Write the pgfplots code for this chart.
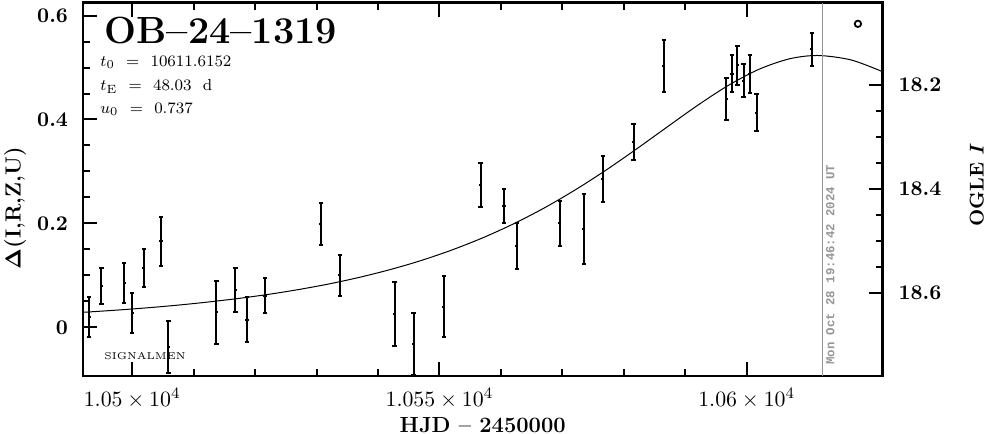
\documentclass[border=0pt]{standalone}
\usepackage{pgfplots}
\pgfplotsset{compat=1.18}
\usepackage{fontspec}
\newfontfamily\datefont{Liberation Mono}
\definecolor{dategray}{RGB}{150,150,150}

\begin{document}
\begin{tikzpicture}
\useasboundingbox (-41.5bp,-29bp) rectangle (451.5bp,188bp);
\begin{axis}[
  at={(0,0)}, anchor=south west,
  scale only axis, width=399.75bp, height=186.75bp,
  xmin=10492, xmax=10622.1, ymin=-0.0933, ymax=0.625,
  scaled x ticks=false, scaled y ticks=false,
  xtick={10500,10550,10600},
  xticklabels={$1.05\times10^4$,$1.055\times10^4$,$1.06\times10^4$},
  minor x tick num=4,
  ytick={0,0.2,0.4,0.6},
  yticklabels={0,0.2,0.4,0.6},
  minor y tick num=3,
  ytick pos=left, xtick pos=both,
  tick align=inside,
  major tick length=7bp, minor tick length=3.5bp,
  every tick/.style={line width=1bp, black},
  axis line style={line width=1.2bp},
  xticklabel style={font=\fontsize{11}{12}\selectfont, yshift=-2.5bp},
  yticklabel style={font=\fontsize{10.5}{12}\selectfont\bfseries, xshift=-4bp},
  xlabel={HJD -- 2450000},
  xlabel style={font=\fontsize{11}{12}\selectfont\bfseries, at={(axis description cs:0.5,-0.131)}, anchor=center},
  ylabel={{\boldmath$\Delta$}(I,R,Z,U)},
  ylabel style={font=\fontsize{11}{12}\selectfont\bfseries, at={(axis description cs:-0.085,0.45)}, anchor=center, rotate=0},
  clip=true,
]
% model curve
\addplot[black, line width=0.5bp, smooth, no marks] coordinates {
(10492,0.0292) (10497,0.0330) (10502,0.0374) (10507,0.0425) (10512,0.0485)
(10517,0.0554) (10522,0.0634) (10527,0.0728) (10532,0.0837) (10537,0.0965)
(10542,0.1114) (10547,0.1287) (10552,0.1489) (10557,0.1722) (10562,0.1990)
(10567,0.2295) (10572,0.2639) (10577,0.3018) (10582,0.3427) (10587,0.3851)
(10592,0.4271) (10597,0.4655) (10602,0.4966) (10607,0.5168) (10611.6,0.5231)
(10617,0.5145) (10622.1,0.4920)
};
% date line
\addplot[dategray, line width=0.6bp, no marks] coordinates {(10612.32,-0.0933) (10612.32,0.625)};
% data
\addplot[black, only marks, mark=-, mark size=0.8bp, mark options={line width=1bp},
  error bars/.cd, y dir=both, y explicit,
  error bar style={line width=1bp, black},
  error mark=-, error mark options={rotate=90, mark size=1.1bp, line width=1bp, black}]
coordinates {
(10493.0,0.020) +- (0,0.039)
(10495.0,0.080) +- (0,0.034)
(10498.7,0.086) +- (0,0.038)
(10500.0,0.028) +- (0,0.038)
(10501.9,0.114) +- (0,0.037)
(10504.7,0.166) +- (0,0.047)
(10505.9,-0.037) +- (0,0.050)
(10513.7,0.029) +- (0,0.060)
(10516.8,0.072) +- (0,0.043)
(10518.7,0.015) +- (0,0.043)
(10521.6,0.061) +- (0,0.034)
(10530.7,0.199) +- (0,0.040)
(10533.8,0.100) +- (0,0.040)
(10542.7,0.026) +- (0,0.061)
(10545.8,-0.032) +- (0,0.060)
(10550.7,0.040) +- (0,0.059)
(10556.7,0.274) +- (0,0.042)
(10560.5,0.234) +- (0,0.033)
(10562.6,0.157) +- (0,0.044)
(10569.6,0.200) +- (0,0.044)
(10573.5,0.189) +- (0,0.067)
(10576.6,0.285) +- (0,0.044)
(10581.6,0.357) +- (0,0.035)
(10586.5,0.502) +- (0,0.050)
(10596.7,0.440) +- (0,0.040)
(10597.6,0.488) +- (0,0.036)
(10598.5,0.504) +- (0,0.038)
(10599.5,0.475) +- (0,0.031)
(10600.5,0.488) +- (0,0.037)
(10601.6,0.413) +- (0,0.036)
(10610.6,0.535) +- (0,0.032)
};
% small circle
\addplot[black, only marks, mark=o, mark size=1.6bp, mark options={line width=0.9bp}] coordinates {(10618.1,0.584)};
% texts
\node[anchor=base west, font=\fontsize{19}{20}\selectfont\bfseries, inner sep=0pt] at (axis description cs:0.0263,0.890) {OB--24--1319};
\node[anchor=base west, font=\fontsize{8}{9}\selectfont, inner sep=0pt] at (axis description cs:0.0213,0.828) {$t_0$ \ = \ 10611.6152};
\node[anchor=base west, font=\fontsize{8}{9}\selectfont, inner sep=0pt] at (axis description cs:0.0213,0.764) {$t_{\mathrm{E}}$ \ = \ 48.03 \ d};
\node[anchor=base west, font=\fontsize{8}{9}\selectfont, inner sep=0pt] at (axis description cs:0.0213,0.703) {$u_0$ \ = \ 0.737};
\node[anchor=base west, font=\fontsize{5}{6}\selectfont, inner sep=0pt] at (axis description cs:0.0263,0.0455) {SIGNALMEN};
\node[anchor=west, rotate=90, font=\fontsize{6.2}{7}\selectfont\datefont\bfseries, text=dategray, inner sep=0pt] at (axis description cs:0.9347,0.029) {Mon Oct 28 19:46:42 2024 UT};
\end{axis}
\begin{axis}[
  at={(0,0)}, anchor=south west,
  scale only axis, width=399.75bp, height=186.75bp,
  xmin=10492, xmax=10622.1,
  ymin=18.0413, ymax=18.7596, y dir=reverse,
  axis x line=none, axis y line*=right,
  xtick=\empty, xticklabels={}, scaled x ticks=false, scaled y ticks=false,
  ytick={18.2,18.4,18.6}, yticklabels={18.2,18.4,18.6},
  minor y tick num=3,
  tick align=inside,
  major tick length=7bp, minor tick length=3.5bp,
  every tick/.style={line width=1bp, black},
  axis line style={line width=1.2bp},
  yticklabel style={font=\fontsize{10.5}{12}\selectfont\bfseries, xshift=4.5bp},
  ylabel={OGLE \textit{I}},
  ylabel style={font=\fontsize{10}{12}\selectfont\bfseries, at={(axis description cs:1.118,0.511)}, anchor=center, rotate=0},
]
\end{axis}
\end{tikzpicture}
\end{document}
